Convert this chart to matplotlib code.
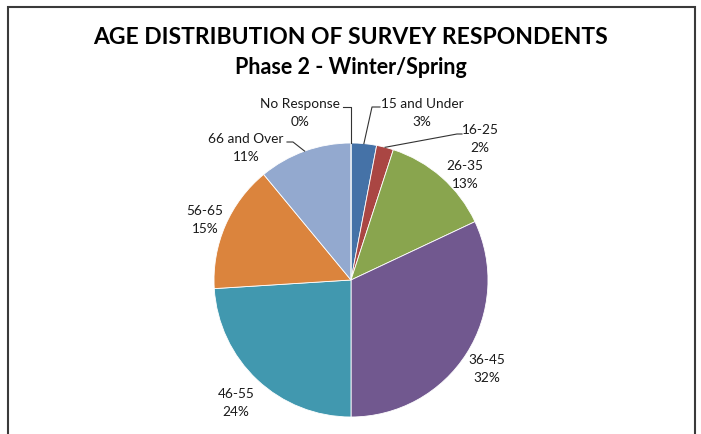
"""Age distribution pie chart, phase 2 (winter/spring)."""

import numpy as np
import matplotlib
matplotlib.use("Agg")
import matplotlib.pyplot as plt
from matplotlib.patches import Rectangle
from matplotlib.lines import Line2D

categories = ["15 and Under", "16-25", "26-35", "36-45", "46-55", "56-65",
              "66 and Over", "No Response"]
percents = [3, 2, 13, 32, 24, 15, 11, 0]
colors = ["#4572A7", "#AA4643", "#89A54E", "#71588F", "#4198AF", "#DB843D",
          "#93A9CF", "#7f7f7f"]

W, H = 701, 434
# label centres in pixels (top-left origin)
label_px = [(422, 113), (480, 139), (465, 175), (487, 369), (236, 403),
            (205, 220), (246, 148), (300, 113)]
# elbow points for leader lines, None = no leader
elbows = {
    0: [(380, 107), (372, 107)],
    1: [(462, 134), (457, 134)],
    6: [(287, 142), (293, 142)],
    7: [(343, 107), (351, 107)],
}

plt.rcParams["font.family"] = ["Lato", "DejaVu Sans"]


def px(x, y):
    return x / W, 1 - y / H


fig = plt.figure(figsize=(W / 100, H / 100), dpi=100)
cx, cy, r = 351, 280, 137
ax = fig.add_axes([(cx - r) / W, (H - cy - r) / H, 2 * r / W, 2 * r / H])
wedges, _ = ax.pie(percents, colors=colors, startangle=90, counterclock=False,
                   radius=1, wedgeprops=dict(edgecolor="white", linewidth=0.6))
ax.set_xlim(-1, 1)
ax.set_ylim(-1, 1)
ax.set_aspect("equal")
ax.axis("off")

for i, (name, val) in enumerate(zip(categories, percents)):
    lx, ly = label_px[i]
    fig.text(*px(lx, ly), f"{name}\n{val}%", ha="center", va="center",
             fontsize=9.8, color="#1a1a1a", linespacing=1.6)
    if i in elbows:
        w = wedges[i]
        ang = np.deg2rad((w.theta1 + w.theta2) / 2)
        ex, ey = ax.transData.transform((np.cos(ang), np.sin(ang)))
        pts = [px(*p) for p in elbows[i]] + [(ex / W, ey / H)]
        xs, ys = zip(*pts)
        fig.add_artist(Line2D(xs, ys, transform=fig.transFigure,
                              color="#333333", lw=0.8))

fig.text(0.5, px(0, 37)[1], "AGE DISTRIBUTION OF SURVEY RESPONDENTS",
         ha="center", va="center", fontsize=16.5, fontweight="bold")
fig.text(0.5, px(0, 68)[1], "Phase 2 - Winter/Spring",
         ha="center", va="center", fontsize=15.5, fontweight="bold")

fig.add_artist(Rectangle(px(8, 460), 687 / W, 453 / H, transform=fig.transFigure,
                         fill=False, edgecolor="#3a3a3a", lw=1.5))

fig.savefig("out.png", dpi=100)
